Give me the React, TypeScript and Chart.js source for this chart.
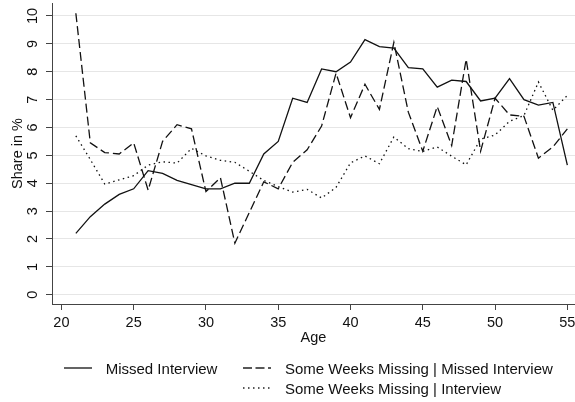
import React, { useEffect, useRef } from "react";
import { Chart, registerables } from "chart.js";

Chart.register(...registerables);

// ---- Data ----
const ages = [21, 22, 23, 24, 25, 26, 27, 28, 29, 30, 31, 32, 33, 34, 35, 36, 37, 38, 39, 40, 41, 42, 43, 44, 45, 46, 47, 48, 49, 50, 51, 52, 53, 54, 55];

const missedInterview = [2.2, 2.8, 3.25, 3.6, 3.8, 4.45, 4.35, 4.1, 3.95, 3.8, 3.8, 4.0, 4.0, 5.05, 5.5, 7.05, 6.9, 8.1, 8.0, 8.35, 9.15, 8.9, 8.85, 8.15, 8.1, 7.45, 7.7, 7.65, 6.95, 7.05, 7.75, 7.0, 6.8, 6.9, 4.65];

const someWeeksMissedInterview = [10.1, 5.45, 5.1, 5.05, 5.45, 3.75, 5.5, 6.1, 5.95, 3.7, 4.2, 1.85, 2.95, 4.05, 3.8, 4.75, 5.2, 6.05, 7.95, 6.35, 7.55, 6.65, 9.05, 6.55, 5.15, 6.75, 5.35, 8.45, 5.15, 7.05, 6.45, 6.4, 4.9, 5.3, 5.95];

const someWeeksInterview = [5.7, 4.85, 3.97, 4.12, 4.27, 4.65, 4.77, 4.72, 5.25, 4.98, 4.82, 4.75, 4.43, 4.1, 3.88, 3.68, 3.78, 3.47, 3.85, 4.73, 4.98, 4.7, 5.66, 5.24, 5.14, 5.3, 4.97, 4.66, 5.58, 5.73, 6.22, 6.43, 7.63, 6.62, 7.15];

const seriesLabels = [
  "Missed Interview",
  "Some Weeks Missing | Missed Interview",
  "Some Weeks Missing | Interview",
];

const xTicks = [20, 25, 30, 35, 40, 45, 50, 55];
const yTicks = [0, 1, 2, 3, 4, 5, 6, 7, 8, 9, 10];

// ---- Styles ----
const FONT_FAMILY = '"Liberation Sans", Arial, Helvetica, sans-serif';
const FONT_SIZE = 14.5;
const LEGEND_FONT_SIZE = 15;
const TEXT = "#111111";
const AXIS = "#444444";
const GRID = "#e6e6e6";
const LINE = "#111111";
const DASH = [9, 4];
const DOT = [1.5, 3.5];

const font = { family: FONT_FAMILY, size: FONT_SIZE };

function toPoints(values: number[]) {
  return ages.map((a, i) => ({ x: a, y: values[i] }));
}

function LegendSample({ dash }: { dash?: string }) {
  return (
    <svg width={28} height={4} style={{ display: "block" }}>
      <line x1={0} y1={2} x2={28} y2={2} stroke="#222" strokeWidth={1.4} strokeDasharray={dash} />
    </svg>
  );
}

export default function App() {
  const ref = useRef<HTMLCanvasElement>(null);

  useEffect(() => {
    const canvas = ref.current;
    if (!canvas) return;
    const chart = new Chart(canvas, {
      type: "line",
      data: {
        datasets: [
          {
            label: seriesLabels[0],
            data: toPoints(missedInterview),
            borderColor: LINE,
            borderWidth: 1.3,
            pointRadius: 0,
            fill: false,
            tension: 0,
          },
          {
            label: seriesLabels[1],
            data: toPoints(someWeeksMissedInterview),
            borderColor: LINE,
            borderWidth: 1.3,
            borderDash: DASH,
            pointRadius: 0,
            fill: false,
            tension: 0,
          },
          {
            label: seriesLabels[2],
            data: toPoints(someWeeksInterview),
            borderColor: LINE,
            borderWidth: 1.3,
            borderDash: DOT,
            pointRadius: 0,
            fill: false,
            tension: 0,
          },
        ],
      },
      options: {
        animation: false,
        responsive: false,
        maintainAspectRatio: false,
        layout: { padding: { top: 3, bottom: 55, left: 0, right: 0 } },
        plugins: { legend: { display: false }, tooltip: { enabled: false } },
        scales: {
          x: {
            type: "linear",
            min: 19.35,
            max: 55.53,
            afterBuildTicks: (s: any) => {
              s.ticks = xTicks.map((v) => ({ value: v }));
            },
            afterFit: (s: any) => {
              s.height = 43;
              s.paddingLeft = 0;
              s.paddingRight = 0;
            },
            grid: { drawOnChartArea: false, drawTicks: true, tickLength: 6, tickColor: AXIS, tickWidth: 1 },
            border: { display: true, color: AXIS, width: 1 },
            ticks: { font, color: TEXT, padding: 4, maxRotation: 0, autoSkip: false },
            title: { display: true, text: "Age", font, color: TEXT, padding: { top: 0, bottom: 0 } },
          },
          y: {
            type: "linear",
            min: -0.333,
            max: 10.466,
            afterBuildTicks: (s: any) => {
              s.ticks = yTicks.map((v) => ({ value: v }));
            },
            afterFit: (s: any) => {
              s.width = 52;
              s.paddingTop = 0;
              s.paddingBottom = 0;
            },
            grid: { color: GRID, lineWidth: 1, drawTicks: true, tickLength: 6, tickColor: AXIS, tickWidth: 1 },
            border: { display: true, color: AXIS, width: 1 },
            ticks: { font, color: TEXT, padding: 5, minRotation: 90, maxRotation: 90, crossAlign: "center", autoSkip: false },
            title: { display: true, text: "Share in %", font, color: TEXT, padding: { top: 8.8, bottom: 0 } },
          },
        },
      },
    } as any);
    return () => chart.destroy();
  }, []);

  const textStyle: React.CSSProperties = {
    position: "absolute",
    fontFamily: FONT_FAMILY,
    fontSize: LEGEND_FONT_SIZE,
    lineHeight: "17px",
    color: TEXT,
    whiteSpace: "nowrap",
  };

  return (
    <div style={{ position: "fixed", left: 0, top: 0, width: 575, height: 402, background: "#fff" }}>
      <canvas ref={ref} width={575} height={402} style={{ display: "block", width: 575, height: 402 }} />
      <div style={{ position: "absolute", left: 64, top: 366 }}>
        <LegendSample />
      </div>
      <div style={{ ...textStyle, left: 105.7, top: 360 }}>{seriesLabels[0]}</div>
      <div style={{ position: "absolute", left: 243.3, top: 366 }}>
        <LegendSample dash="9 3.5" />
      </div>
      <div style={{ ...textStyle, left: 285, top: 360 }}>{seriesLabels[1]}</div>
      <div style={{ position: "absolute", left: 243.3, top: 386 }}>
        <LegendSample dash="1.5 3.5" />
      </div>
      <div style={{ ...textStyle, left: 285, top: 380 }}>{seriesLabels[2]}</div>
    </div>
  );
}
